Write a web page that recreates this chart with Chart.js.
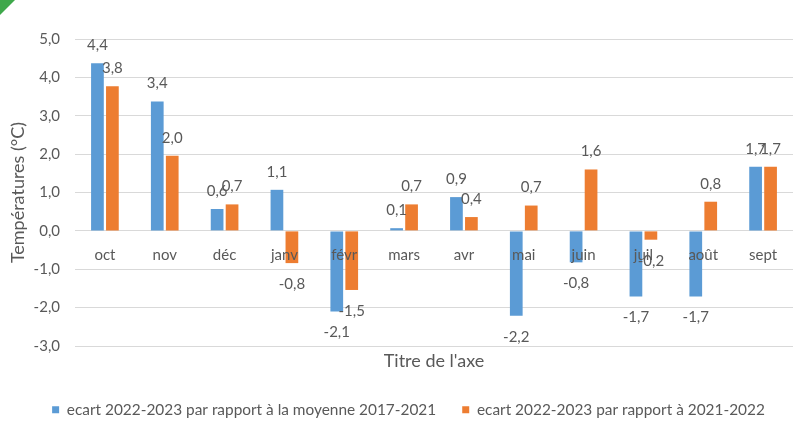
<!DOCTYPE html>
<html lang="fr">
<head>
<meta charset="utf-8">
<title>Ecarts de températures</title>
<script src="https://cdn.jsdelivr.net/npm/chart.js@4.4.1/dist/chart.umd.min.js"></script>
<style>
    html, body { margin: 0; padding: 0; background: #ffffff; }
    #wrap { position: relative; width: 807px; height: 425px; }
</style>
</head>
<body>
<div id="wrap"><canvas id="ecartChart" width="807" height="425"></canvas></div>
<script>
// Data
const categories = ['oct', 'nov', 'déc', 'janv', 'févr', 'mars', 'avr', 'mai', 'juin', 'juil', 'août', 'sept'];
const ecartMoyenne = [4.37, 3.37, 0.57, 1.07, -2.10, 0.07, 0.88, -2.21, -0.82, -1.71, -1.71, 1.67];
const ecartAnnee = [3.77, 1.96, 0.69, -0.84, -1.54, 0.69, 0.36, 0.66, 1.60, -0.23, 0.76, 1.67];
const seriesNames = ['ecart 2022-2023 par rapport à la moyenne 2017-2021', 'ecart 2022-2023 par rapport à 2021-2022'];
const yMin = -3;
const yMax = 5;

const FONT = 'Lato, "Open Sans", sans-serif';
const GREY = '#595959';

function fmt(v) {
    return (Math.round(v * 10) / 10).toFixed(1).replace('.', ',');
}

// Category names sit on the zero line, data labels outside the bar ends
const labelsPlugin = {
    id: 'excelLabels',
    afterLayout(chart) {
        // Excel centres the legend a little further right
        if (chart.legend) {
            chart.legend.left += 12;
            chart.legend.right += 12;
        }
    },
    afterDatasetsDraw(chart) {
        const ctx = chart.ctx;
        const xs = chart.scales.x;
        const ys = chart.scales.y;
        const zero = ys.getPixelForValue(0);
        ctx.save();
        ctx.font = '15px ' + FONT;
        ctx.fillStyle = GREY;
        ctx.textAlign = 'center';
        ctx.textBaseline = 'middle';

        chart.data.datasets.forEach((ds, di) => {
            const meta = chart.getDatasetMeta(di);
            meta.data.forEach((bar, i) => {
                const v = ds.data[i];
                const y = v >= 0 ? bar.y - 18 : bar.y + 21;
                ctx.fillText(fmt(v), bar.x, y);
            });
        });

        categories.forEach((c, i) => {
            ctx.fillText(c, xs.getPixelForValue(i), zero + 24);
        });
        ctx.restore();
    },
    afterDraw(chart) {
        // small green corner mark
        const ctx = chart.ctx;
        ctx.save();
        ctx.fillStyle = '#3ea84b';
        ctx.beginPath();
        ctx.moveTo(0, 0);
        ctx.lineTo(15, 0);
        ctx.lineTo(0, 15);
        ctx.closePath();
        ctx.fill();
        ctx.restore();
    }
};

const ctx = document.getElementById('ecartChart').getContext('2d');

new Chart(ctx, {
    type: 'bar',
    data: {
        labels: categories,
        datasets: [{
            label: seriesNames[0],
            data: ecartMoyenne,
            backgroundColor: '#5b9bd5',
            borderWidth: 0
        }, {
            label: seriesNames[1],
            data: ecartAnnee,
            backgroundColor: '#ed7d31',
            borderWidth: 0
        }]
    },
    options: {
        responsive: false,
        animation: false,
        devicePixelRatio: 1,
        categoryPercentage: 0.5,
        barPercentage: 0.85,
        layout: { padding: { top: 39, right: 14, bottom: -2.4, left: 0 } },
        scales: {
            x: {
                grid: { display: false },
                border: { display: false },
                ticks: { display: false },
                title: {
                    display: true,
                    text: "Titre de l'axe",
                    color: GREY,
                    font: { family: FONT, size: 18 },
                    padding: { top: 0, bottom: 4 }
                },
                afterFit(scale) { scale.height = 30; }
            },
            y: {
                min: yMin,
                max: yMax,
                grid: { color: '#d9d9d9', lineWidth: 1, drawTicks: false },
                border: { display: false },
                ticks: {
                    stepSize: 1,
                    color: GREY,
                    padding: 15,
                    font: { family: FONT, size: 15 },
                    callback: function(value) { return fmt(value); }
                },
                title: {
                    display: true,
                    text: 'Températures (°C)',
                    color: GREY,
                    font: { family: FONT, size: 18 },
                    padding: { top: 7, bottom: 0 }
                },
                afterFit(scale) { scale.width = 75; }
            }
        },
        plugins: {
            legend: {
                position: 'bottom',
                labels: {
                    color: GREY,
                    font: { family: FONT, size: 15.4 },
                    boxWidth: 7,
                    boxHeight: 7,
                    padding: 26
                }
            },
            tooltip: { enabled: false }
        }
    },
    plugins: [labelsPlugin]
});
</script>
</body>
</html>
